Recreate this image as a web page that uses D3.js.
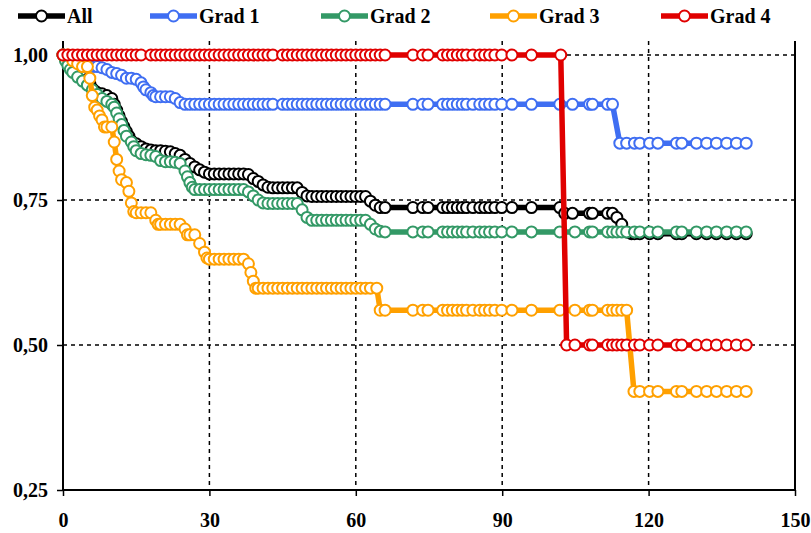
<!DOCTYPE html>
<html>
<head>
<meta charset="utf-8">
<script src="https://cdn.jsdelivr.net/npm/d3@7"></script>
<style>
  body { margin: 0; background: #fff; }
  text { font-family: "Liberation Serif", "Times New Roman", serif; font-weight: bold; }
</style>
</head>
<body>
<div id="chart"></div>
<script>
// survival curves: [time, survival]
var allData = [[0,1],[0.5,0.995],[1,0.99],[1.5,0.985],[2,0.98],[3,0.975],[4,0.97],[4.5,0.965],[5,0.958],[5.5,0.95],[6,0.942],[6.5,0.938],[7,0.935],[8,0.933],[9,0.93],[10,0.925],[10.5,0.915],[11,0.905],[11.5,0.895],[12,0.885],[12.5,0.876],[13,0.868],[13.5,0.86],[14,0.852],[15,0.847],[16,0.842],[17,0.838],[18,0.836],[19,0.835],[20,0.835],[21,0.834],[22,0.833],[23,0.83],[24,0.827],[25,0.82],[26,0.813],[27,0.807],[28,0.802],[29,0.798],[30,0.795],[31,0.795],[32,0.795],[33,0.795],[34,0.795],[35,0.795],[36,0.795],[37,0.795],[38,0.794],[39,0.787],[40,0.782],[41,0.776],[42,0.772],[43,0.771],[44,0.771],[45,0.771],[46,0.771],[47,0.771],[48,0.771],[49,0.763],[50,0.757],[51,0.756],[52,0.756],[53,0.756],[54,0.756],[55,0.756],[56,0.756],[57,0.756],[58,0.756],[59,0.756],[60,0.756],[61,0.756],[62,0.756],[63,0.748],[64,0.741],[65,0.737],[66,0.737],[71.7,0.737],[73.7,0.737],[74.8,0.737],[77.8,0.737],[78.8,0.737],[79.8,0.737],[80.8,0.737],[81.8,0.737],[82.7,0.737],[84,0.737],[85.4,0.737],[86.4,0.737],[87.4,0.737],[88.5,0.737],[89.9,0.737],[92,0.737],[96,0.737],[101.8,0.737],[102.8,0.727],[104.4,0.727],[107.9,0.727],[108.5,0.727],[111.6,0.727],[112.6,0.727],[113.5,0.72],[114.5,0.708],[115.5,0.695],[116.5,0.692],[117.1,0.692],[118.2,0.692],[120.2,0.692],[121.9,0.692],[125.7,0.692],[126.8,0.692],[129.8,0.692],[131.9,0.692],[133.9,0.692],[136,0.692],[138,0.692],[140,0.692]];

var grad1Data = [[0,1],[1,0.995],[2,0.99],[3,0.985],[4,0.98],[5,0.98],[6,0.98],[7,0.98],[8,0.978],[9,0.975],[10,0.97],[11,0.968],[12,0.965],[13,0.96],[14,0.96],[15,0.958],[16,0.952],[16.5,0.945],[17,0.94],[18,0.935],[18.5,0.93],[19,0.928],[20,0.928],[21,0.928],[22,0.928],[23,0.925],[24,0.918],[25,0.915],[26,0.915],[27,0.915],[28,0.915],[29,0.915],[30,0.915],[31,0.915],[32,0.915],[33,0.915],[34,0.915],[35,0.915],[36,0.915],[37,0.915],[38,0.915],[39,0.915],[40,0.915],[41,0.915],[42,0.915],[43,0.915],[45,0.915],[46,0.915],[47,0.915],[48,0.915],[49,0.915],[50,0.915],[51,0.915],[52,0.915],[53,0.915],[54,0.915],[55,0.915],[56,0.915],[57,0.915],[58,0.915],[59,0.915],[60,0.915],[61,0.915],[62,0.915],[63,0.915],[64,0.915],[65,0.915],[66,0.915],[71.7,0.915],[73.7,0.915],[74.8,0.915],[77.8,0.915],[78.8,0.915],[79.8,0.915],[80.8,0.915],[81.8,0.915],[82.7,0.915],[84,0.915],[85.4,0.915],[86.4,0.915],[87.4,0.915],[88.5,0.915],[89.9,0.915],[92,0.915],[96,0.915],[101.8,0.915],[104.4,0.915],[107.9,0.915],[108.5,0.915],[111.6,0.915],[112.6,0.915],[114.1,0.848],[115.5,0.848],[117.1,0.848],[118.2,0.848],[120.2,0.848],[121.9,0.848],[125.7,0.848],[126.8,0.848],[129.8,0.848],[131.9,0.848],[133.9,0.848],[136,0.848],[138,0.848],[140,0.848]];

var grad2Data = [[0,1],[0.5,0.99],[1,0.982],[1.5,0.975],[2,0.97],[3,0.962],[4,0.955],[5,0.948],[6,0.94],[7,0.932],[8,0.925],[9,0.92],[10,0.915],[10.5,0.91],[11,0.9],[11.5,0.89],[12,0.88],[12.5,0.87],[13,0.86],[14,0.85],[14.5,0.842],[15,0.835],[16,0.83],[17,0.828],[18,0.827],[19,0.825],[20,0.818],[21,0.816],[22,0.816],[23,0.815],[24,0.813],[25,0.8],[25.5,0.79],[26,0.78],[26.5,0.772],[27,0.768],[28,0.768],[29,0.768],[30,0.768],[31,0.768],[32,0.768],[33,0.768],[34,0.768],[35,0.768],[36,0.768],[37,0.768],[38,0.764],[39,0.757],[40,0.75],[41,0.745],[42,0.744],[43,0.744],[44,0.744],[45,0.744],[46,0.744],[47,0.744],[48,0.744],[49,0.733],[50,0.72],[51,0.715],[52,0.715],[53,0.715],[54,0.715],[55,0.715],[56,0.715],[57,0.715],[58,0.715],[59,0.715],[60,0.715],[61,0.715],[62,0.715],[63,0.708],[64,0.7],[65,0.696],[66,0.695],[71.7,0.695],[73.7,0.695],[74.8,0.695],[77.8,0.695],[78.8,0.695],[79.8,0.695],[80.8,0.695],[81.8,0.695],[82.7,0.695],[84,0.695],[85.4,0.695],[86.4,0.695],[87.4,0.695],[88.5,0.695],[89.9,0.695],[92,0.695],[96,0.695],[101.8,0.695],[104.9,0.695],[107.9,0.695],[108.5,0.695],[111.6,0.695],[112.6,0.695],[113.5,0.695],[114.5,0.695],[115.5,0.695],[117.1,0.695],[118.2,0.695],[120.2,0.695],[121.9,0.695],[125.7,0.695],[126.8,0.695],[129.8,0.695],[131.9,0.695],[133.9,0.695],[136,0.695],[138,0.695],[140,0.695]];

var grad3Data = [[0,1],[1,1],[2,0.99],[3,0.985],[4,0.98],[5,0.98],[5.5,0.96],[6,0.93],[6.5,0.91],[7,0.905],[7.5,0.895],[8,0.888],[8.5,0.876],[9,0.876],[10,0.876],[10.5,0.85],[11,0.82],[11.5,0.8],[12,0.785],[13,0.78],[13.5,0.765],[14,0.745],[14.5,0.73],[15,0.728],[16,0.728],[17,0.728],[18,0.728],[19,0.715],[19.5,0.708],[20,0.708],[21,0.708],[22,0.708],[23,0.708],[24,0.708],[25,0.7],[25.5,0.69],[26,0.69],[27,0.69],[28,0.675],[29,0.66],[29.5,0.65],[30,0.648],[31,0.648],[32,0.648],[33,0.648],[34,0.648],[35,0.648],[36,0.648],[37,0.648],[38,0.64],[38.5,0.625],[39,0.61],[39.5,0.598],[40,0.598],[41,0.598],[42,0.598],[43,0.598],[44,0.598],[45,0.598],[46,0.598],[47,0.598],[48,0.598],[49,0.598],[50,0.598],[51,0.598],[52,0.598],[53,0.598],[54,0.598],[55,0.598],[56,0.598],[57,0.598],[58,0.598],[59,0.598],[60,0.598],[61,0.598],[62,0.598],[63,0.598],[64.3,0.598],[65,0.56],[66,0.56],[71.7,0.56],[73.7,0.56],[74.8,0.56],[77.8,0.56],[78.8,0.56],[79.8,0.56],[80.8,0.56],[81.8,0.56],[82.7,0.56],[84,0.56],[85.4,0.56],[86.4,0.56],[87.4,0.56],[88.5,0.56],[89.9,0.56],[92,0.56],[96,0.56],[101.8,0.56],[104.9,0.56],[107.9,0.56],[108.5,0.56],[111.6,0.56],[112.6,0.56],[113.5,0.56],[114.5,0.56],[115.5,0.56],[117,0.42],[118.2,0.42],[120.2,0.42],[121.9,0.42],[125.7,0.42],[126.8,0.42],[129.8,0.42],[131.9,0.42],[133.9,0.42],[136,0.42],[138,0.42],[140,0.42]];

var grad4Data = [[0,1],[1,1],[2,1],[3,1],[4,1],[5,1],[6,1],[7,1],[8,1],[9,1],[10,1],[11,1],[12,1],[13,1],[14,1],[15,1],[16,1],[18,1],[19,1],[20,1],[21,1],[22,1],[23,1],[24,1],[25,1],[26,1],[27,1],[28,1],[29,1],[30,1],[31,1],[32,1],[33,1],[34,1],[35,1],[36,1],[37,1],[38,1],[39,1],[40,1],[41,1],[42,1],[43,1],[45,1],[46,1],[47,1],[48,1],[49,1],[50,1],[51,1],[52,1],[53,1],[54,1],[55,1],[56,1],[57,1],[58,1],[59,1],[60,1],[61,1],[62,1],[63,1],[64,1],[65,1],[66,1],[71.7,1],[73.7,1],[74.8,1],[77.8,1],[78.8,1],[79.8,1],[80.8,1],[81.8,1],[82.7,1],[84,1],[85.4,1],[86.4,1],[87.4,1],[88.5,1],[89.9,1],[92,1],[96,1],[102,1],[103.2,0.5],[104.9,0.5],[107.9,0.5],[108.5,0.5],[111.6,0.5],[112.6,0.5],[113.5,0.5],[114.5,0.5],[115.5,0.5],[117.1,0.5],[118.2,0.5],[120.2,0.5],[121.9,0.5],[125.7,0.5],[126.8,0.5],[129.8,0.5],[131.9,0.5],[133.9,0.5],[136,0.5],[138,0.5],[140,0.5]];

var seriesNames = ["All", "Grad 1", "Grad 2", "Grad 3", "Grad 4"];
var seriesColors = ["#000000", "#3f6ef2", "#339966", "#ffa000", "#e00000"];
var xTicks = [0, 30, 60, 90, 120, 150];
var yTicks = [0.25, 0.5, 0.75, 1];
var yTickLabels = ["0,25", "0,50", "0,75", "1,00"];

var seriesData = [allData, grad1Data, grad2Data, grad3Data, grad4Data];

var width = 811, height = 533;
var plotTop = 41, plotBottom = 490, plotLeft = 63, plotRight = 795;

var svg = d3.select("#chart").append("svg")
  .attr("width", width)
  .attr("height", height);

var xScale = d3.scaleLinear().domain([0, 150]).range([plotLeft, plotRight]);
var yScale = d3.scaleLinear().domain([0.25, 1]).range([plotBottom, 55]);

// dashed grid
svg.selectAll(".vgrid")
  .data(xTicks.filter(function(d) { return d > 0 && d < 150; }))
  .enter().append("line")
  .attr("x1", function(d) { return xScale(d); })
  .attr("x2", function(d) { return xScale(d); })
  .attr("y1", plotTop).attr("y2", plotBottom)
  .attr("stroke", "#000").attr("stroke-width", 1.5).attr("stroke-dasharray", "4,4");

svg.selectAll(".hgrid")
  .data(yTicks.filter(function(d) { return d > 0.25; }))
  .enter().append("line")
  .attr("x1", plotLeft).attr("x2", plotRight)
  .attr("y1", function(d) { return yScale(d); })
  .attr("y2", function(d) { return yScale(d); })
  .attr("stroke", "#000").attr("stroke-width", 1.5).attr("stroke-dasharray", "4,4");

// axes
var xAxis = svg.append("g")
  .attr("transform", "translate(0," + plotBottom + ")")
  .call(d3.axisBottom(xScale).tickValues(xTicks).tickSize(6).tickSizeOuter(0).tickPadding(17));
var yAxis = svg.append("g")
  .attr("transform", "translate(" + plotLeft + ",0)")
  .call(d3.axisLeft(yScale).tickValues(yTicks).tickSize(6).tickSizeOuter(0).tickPadding(9)
    .tickFormat(function(d, i) { return yTickLabels[i]; }));

[xAxis, yAxis].forEach(function(a) {
  a.select(".domain").remove();
  a.selectAll("line").attr("stroke", "#000").attr("stroke-width", 1.5);
  a.selectAll("text").attr("font-size", 20).attr("fill", "#000")
    .style("font-family", "'Liberation Serif', serif").style("font-weight", "bold");
});

svg.append("line").attr("x1", plotLeft).attr("x2", plotLeft).attr("y1", plotTop).attr("y2", plotBottom + 1)
  .attr("stroke", "#000").attr("stroke-width", 2);
svg.append("line").attr("x1", plotRight).attr("x2", plotRight).attr("y1", plotTop).attr("y2", plotBottom + 1)
  .attr("stroke", "#000").attr("stroke-width", 2);
svg.append("line").attr("x1", plotLeft).attr("x2", plotRight).attr("y1", plotBottom).attr("y2", plotBottom)
  .attr("stroke", "#000").attr("stroke-width", 2);

// series lines with markers
var line = d3.line()
  .x(function(d) { return xScale(d[0]); })
  .y(function(d) { return yScale(d[1]); });

seriesData.forEach(function(data, i) {
  var g = svg.append("g");
  g.append("path")
    .datum(data)
    .attr("d", line)
    .attr("fill", "none")
    .attr("stroke", seriesColors[i])
    .attr("stroke-width", 5.5)
    .attr("stroke-linejoin", "round");
  g.selectAll("circle")
    .data(data)
    .enter().append("circle")
    .attr("cx", function(d) { return xScale(d[0]); })
    .attr("cy", function(d) { return yScale(d[1]); })
    .attr("r", 5.5)
    .attr("fill", "#fff")
    .attr("stroke", seriesColors[i])
    .attr("stroke-width", 2);
});

// legend
var legendX = [18, 150, 321, 490, 661];
var legend = svg.selectAll(".legend")
  .data(seriesNames)
  .enter().append("g")
  .attr("transform", function(d, i) { return "translate(" + legendX[i] + ",16)"; });
legend.append("line")
  .attr("x1", 0).attr("x2", 47).attr("y1", 0).attr("y2", 0)
  .attr("stroke", function(d, i) { return seriesColors[i]; })
  .attr("stroke-width", 5.5);
legend.append("circle")
  .attr("cx", 23.5).attr("cy", 0).attr("r", 5.5)
  .attr("fill", "#fff")
  .attr("stroke", function(d, i) { return seriesColors[i]; })
  .attr("stroke-width", 2);
legend.append("text")
  .attr("x", 49).attr("y", 0).attr("dy", "0.35em")
  .attr("font-size", 20)
  .text(function(d) { return d; });
</script>
</body>
</html>
